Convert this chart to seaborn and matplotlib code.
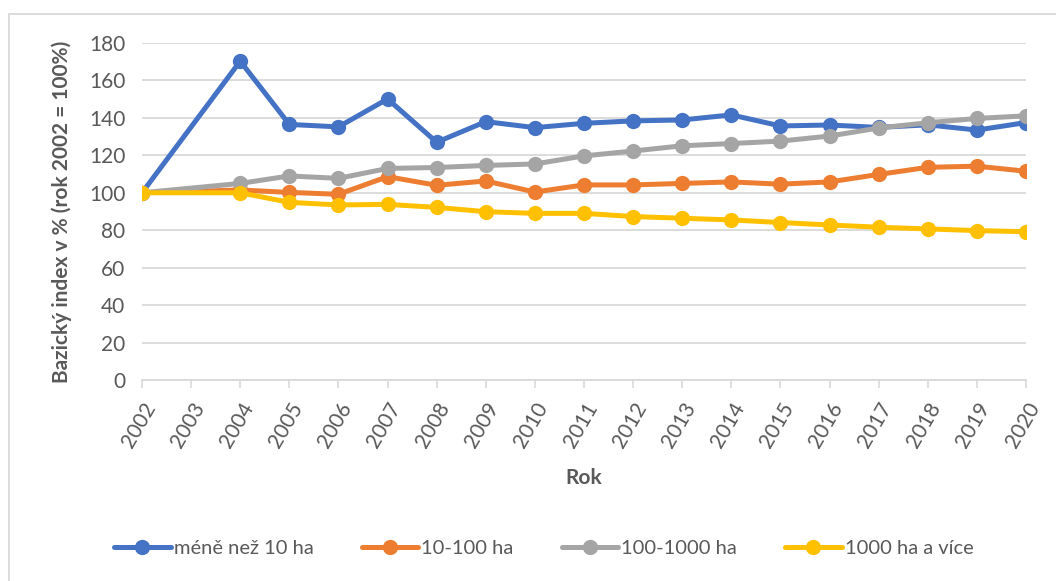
import numpy as np
import pandas as pd
import seaborn as sns
import matplotlib.pyplot as plt
from matplotlib.lines import Line2D
from matplotlib.patches import Rectangle

# data (2003 has no value)
years = [str(y) for y in range(2002, 2021)]
mene_10 = [100, np.nan, 170.3, 136.5, 135.2, 150.1, 127.0, 138.0, 134.8, 137.1,
           138.4, 138.9, 141.6, 135.7, 136.2, 134.9, 136.3, 133.5, 137.5]
ha_10_100 = [100, np.nan, 101.5, 100.2, 99.2, 108.6, 104.0, 106.3, 100.4, 104.2,
             104.2, 105.0, 105.8, 104.6, 105.8, 109.8, 113.6, 114.2, 111.5]
ha_100_1000 = [100, np.nan, 105.0, 109.0, 107.7, 113.0, 113.5, 114.6, 115.4, 119.7,
               122.3, 125.1, 126.3, 127.6, 130.3, 134.6, 137.4, 139.7, 141.1]
ha_1000 = [100, np.nan, 100.0, 94.9, 93.5, 93.8, 92.2, 89.9, 89.0, 89.0,
           87.3, 86.4, 85.5, 84.1, 82.8, 81.6, 80.7, 79.8, 79.2]
series = ['méně než 10 ha', '10-100 ha', '100-1000 ha', '1000 ha a více']
colors = ['#4472C4', '#ED7D31', '#A5A5A5', '#FFC000']

rows = []
for name, vals in zip(series, [mene_10, ha_10_100, ha_100_1000, ha_1000]):
    for i, v in enumerate(vals):
        rows.append({'pos': i, 'rok': years[i], 'skupina': name, 'index': v})
df = pd.DataFrame(rows).dropna()

sns.set_theme(style='white')
plt.rcParams['font.family'] = ['Lato', 'DejaVu Sans']
txt = '#595959'

fig = plt.figure(figsize=(10.56, 5.81), dpi=100)
ax = fig.add_axes([142 / 1056, 1 - 380 / 581, (1026 - 142) / 1056, (380 - 43) / 581])

sns.lineplot(data=df, x='pos', y='index', hue='skupina', hue_order=series,
             palette=colors, marker='o', markersize=11, markeredgewidth=0,
             linewidth=3.6, ax=ax, legend=False)

ax.set_xlim(0, len(years) - 1)
ax.set_ylim(0, 180)
ax.set_yticks(range(0, 181, 20))
ax.set_xticks(range(len(years)))
ax.set_xticklabels(years, rotation=60, ha='right', rotation_mode='anchor')
ax.tick_params(axis='x', length=6, width=1.2, color='#D9D9D9', labelsize=15,
               labelcolor=txt, pad=8, bottom=True)
ax.tick_params(axis='y', length=0, labelsize=15, labelcolor=txt, pad=12)
ax.grid(axis='y', color='#D9D9D9', linewidth=1.3)
ax.set_axisbelow(True)
for s in ['top', 'right', 'left']:
    ax.spines[s].set_visible(False)
ax.spines['bottom'].set_color('#D9D9D9')
ax.spines['bottom'].set_linewidth(1.3)

ax.set_xlabel('Rok', fontsize=15, fontweight='bold', color=txt, labelpad=12)
ax.set_ylabel('Bazický index v % (rok 2002 = 100%)', fontsize=15,
              fontweight='bold', color=txt, labelpad=12)

handles = [Line2D([], [], color=c, lw=3.6, marker='o', markersize=11,
                  markeredgewidth=0) for c in colors]
fig.legend(handles, series, loc='center', bbox_to_anchor=(0.515, 1 - 548 / 581),
           ncol=4, frameon=False, fontsize=14.5, labelcolor=txt,
           handlelength=2.8, handletextpad=0.15, columnspacing=2.4)

# chart border like in the original export
fig.patches.append(Rectangle((9 / 1056, -0.05), 1.1, 1 - 14 / 581 + 0.05,
                             transform=fig.transFigure, fill=False,
                             edgecolor='#D9D9D9', linewidth=1.3))

fig.savefig('out.png', dpi=100)
